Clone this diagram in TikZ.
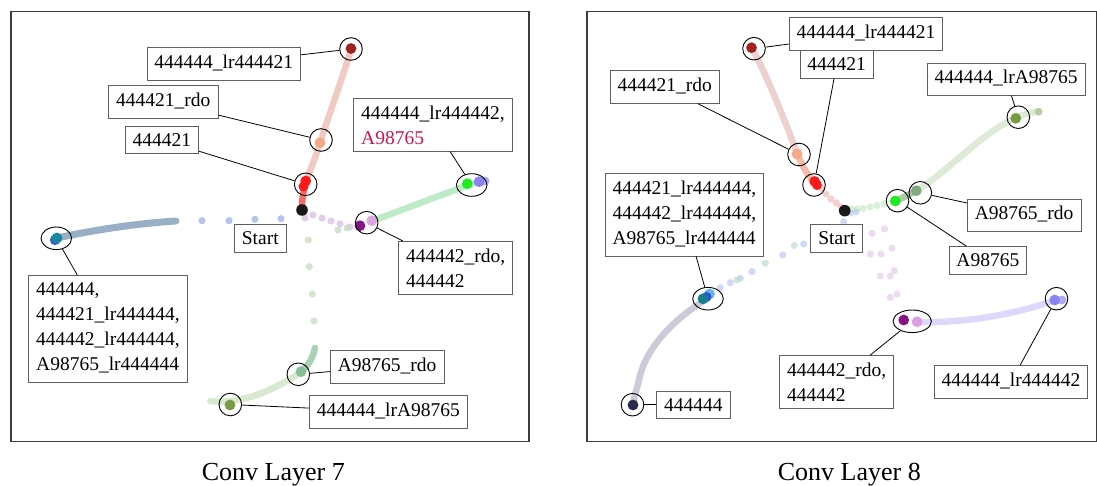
\documentclass[tikz,border=0pt]{standalone}
\usepackage{fontspec}
\setmainfont{Liberation Serif}
\usetikzlibrary{shapes.geometric}

% palette
\definecolor{frameg}{RGB}{60,60,60}
\definecolor{boxg}{RGB}{95,95,95}
\definecolor{cdred}{RGB}{160,35,35}
\definecolor{csalmon}{RGB}{245,168,135}
\definecolor{cred}{RGB}{255,25,25}
\definecolor{cblack}{RGB}{25,25,25}
\definecolor{cteal}{RGB}{25,135,160}
\definecolor{cbluedot}{RGB}{50,100,200}
\definecolor{cpurple}{RGB}{135,20,135}
\definecolor{clilac}{RGB}{220,160,222}
\definecolor{cgreen}{RGB}{30,235,35}
\definecolor{clav}{RGB}{140,130,240}
\definecolor{clavpale}{RGB}{175,172,242}
\definecolor{csage}{RGB}{135,190,150}
\definecolor{csage2}{RGB}{130,170,130}
\definecolor{colive}{RGB}{120,155,65}
\definecolor{cnavy}{RGB}{42,42,82}
\definecolor{csky}{RGB}{100,180,235}
\definecolor{croyal}{RGB}{40,80,220}
\definecolor{cteal2}{RGB}{20,130,140}
\definecolor{crimsontext}{RGB}{200,20,85}
% trail tints
\definecolor{tsalmon}{RGB}{228,150,135}
\definecolor{tred}{RGB}{240,60,50}
\definecolor{tsteel}{RGB}{70,110,150}
\definecolor{tgreen}{RGB}{110,210,130}
\definecolor{tsage}{RGB}{110,180,130}
\definecolor{tpalegreen}{RGB}{170,205,150}
\definecolor{trose}{RGB}{215,150,150}
\definecolor{tcoral}{RGB}{240,140,110}
\definecolor{tpink}{RGB}{230,150,150}
\definecolor{tmint}{RGB}{160,220,160}
\definecolor{tmoss}{RGB}{110,170,110}
\definecolor{tfern}{RGB}{175,205,155}
\definecolor{tfernend}{RGB}{150,185,130}
\definecolor{tslate}{RGB}{150,150,180}
\definecolor{tperi}{RGB}{185,180,245}
\definecolor{pblue}{RGB}{150,172,222}
\definecolor{pblue2}{RGB}{180,190,240}
\definecolor{pviolet}{RGB}{205,175,225}
\definecolor{pviolet2}{RGB}{225,195,230}
\definecolor{pgreen}{RGB}{200,222,195}
\definecolor{pgreen2}{RGB}{190,220,205}

% underscore with the deeper box of the label font
\newcommand{\us}{\_\rule[-4.7pt]{0pt}{4.7pt}}

\tikzset{
  lbl/.style={draw=boxg, line width=0.8pt, fill=white,
    font=\fontsize{19.5}{25}\selectfont, inner xsep=7.5pt, inner ysep=7.15pt, align=left},
  ring/.style={circle, draw=black, line width=0.9pt, minimum size=22.6pt, inner sep=0pt},
  oring/.style={ellipse, draw=black, line width=0.9pt, minimum width=30.6pt,
    minimum height=22.6pt, inner sep=0pt},
  wring/.style={ellipse, draw=black, line width=0.9pt, minimum width=38.4pt,
    minimum height=22.6pt, inner sep=0pt},
  link/.style={draw=black, line width=0.8pt},
  trail/.style={line width=6.5pt, line cap=round, line join=round},
  panel/.style={draw=frameg, line width=1.2pt},
  caption/.style={font=\fontsize{26}{30}\selectfont, anchor=base},
}

\begin{document}
\begin{tikzpicture}[x=1pt,y=-1pt]
\useasboundingbox (0,0) rectangle (1097,486);

% ---------------- Conv Layer 7 ----------------
\draw[panel] (11,11.7) rectangle (529,441.7);

% trajectories
\draw[trail, draw=tsalmon, draw opacity=0.5]
  (351,50) .. controls (340,85) and (328,118) .. (321,140) .. controls (315,160) and (309,172) .. (306,182);
\draw[trail, draw=tred, draw opacity=0.75]
  (306,182) .. controls (303,192) and (302,200) .. (302,208);
\draw[trail, line width=7pt, draw=tsteel, draw opacity=0.55]
  (57,238) .. controls (90,231) and (130,224) .. (176,221);
\draw[trail, draw=tgreen, draw opacity=0.45]
  (372,221) .. controls (400,211) and (440,195) .. (472,184);
\draw[trail, draw=tsage, draw opacity=0.6]
  (315,348) .. controls (313,358) and (308,366) .. (301,372);
\draw[trail, draw=tpalegreen, draw opacity=0.45]
  (301,372) .. controls (275,390) and (240,405) .. (210,401);

% sparse points
\foreach \p in {(202,220.7),(229,220.7),(255,219.3),(281,218.7)}
  \fill[fill=pblue, fill opacity=0.7] \p circle (3.6pt);
\foreach \p in {(305,218),(313,215),(322,218),(331,221),(340,224),(350,227)}
  \fill[fill=pviolet, fill opacity=0.6] \p circle (3.6pt);
\foreach \p in {(338,230),(347,228),(308.3,240),(309.3,266.7),(312.3,294),(314,321)}
  \fill[fill=pgreen, fill opacity=0.8] \p circle (3.6pt);

% states
\fill[cdred] (351,48.5) circle (5.4pt);
\fill[csalmon] (320,142.7) circle (5.4pt);
\fill[cred] (303.5,186.5) circle (5pt);
\fill[cred] (305.7,181) circle (5.4pt);
\fill[cblack] (302,210) circle (5.8pt);
\fill[cbluedot] (55,240) circle (5.2pt);
\fill[cteal] (57,238) circle (5.4pt);
\fill[cpurple] (360,225.7) circle (5.4pt);
\fill[clilac, fill opacity=0.9] (371.7,220.7) circle (5.4pt);
\fill[clavpale] (485,181) circle (4.5pt);
\fill[clav] (479,181.7) circle (5.4pt);
\fill[cgreen] (467.3,183.7) circle (5.4pt);
\fill[csage] (301,371.7) circle (5.4pt);
\fill[colive] (230,405) circle (5.4pt);

% markers
\node[ring]  (r1) at (351,49) {};
\node[ring]  (r2) at (321,140) {};
\node[ring]  (r3) at (305.7,184.3) {};
\node[oring] (r4) at (56.3,238.3) {};
\node[ring]  (r5) at (366.7,222.7) {};
\node[oring] (r6) at (471.7,185) {};
\node[ring]  (r7) at (298.3,374.3) {};
\node[ring]  (r8) at (230.3,404.5) {};

% labels
\node[lbl, anchor=east] (b1) at (301,63.8) {444444\us lr444421};
\node[lbl, anchor=east] (b2) at (218.3,101.8) {444421\us rdo};
\node[lbl, anchor=east] (b3) at (199,139.7) {444421};
\node[lbl, anchor=west] (b4) at (353.3,125) {444444\us lr444442,\\\textcolor{crimsontext}{A98765}};
\node[lbl, anchor=west] (b5) at (398.3,267.8) {444442\us rdo,\\444442};
\node[lbl, anchor=west] (b6) at (28.3,328.7) {444444,\\444421\us lr444444,\\444442\us lr444444,\\A98765\us lr444444};
\node[lbl] (b7) at (260.3,238.2) {Start};
\node[lbl, anchor=west] (b8) at (330,366.7) {A98765\us rdo};
\node[lbl, anchor=west] (b9) at (309,411.7) {444444\us lrA98765};

% leader lines
\draw[link] (b1) -- (r1);
\draw[link] (b2) -- (r2);
\draw[link] (b3) -- (r3);
\draw[link] (b4) -- (r6);
\draw[link] (b5) -- (r5);
\draw[link] (b6) -- (r4);
\draw[link] (b8) -- (r7);
\draw[link] (b9) -- (r8);

\node[caption] (cap7) at (273.3,480.7) {Conv Layer 7};

% ---------------- Conv Layer 8 ----------------
\draw[panel] (587,11.7) rectangle (1096.4,441.7);

% trajectories
\draw[trail, draw=trose, draw opacity=0.45]
  (752,48) .. controls (765,72) and (785,120) .. (797,153);
\draw[trail, draw=tcoral, draw opacity=0.6]
  (797,153) .. controls (802,166) and (808,176) .. (815,183);
\foreach \p in {(821,188),(826,194),(831,199),(836.5,203),(841,207)}
  \fill[fill=tpink, fill opacity=0.45] \p circle (3.6pt);
\foreach \p in {(851,209),(857,209),(863,208.5),(870,207),(877,205.5),(884,203.5)}
  \fill[fill=tmint, fill opacity=0.4] \p circle (3.6pt);
\draw[trail, draw=tmoss, draw opacity=0.6]
  (896,201) -- (916,191);
\draw[trail, draw=tfern, draw opacity=0.42]
  (916,191) .. controls (950,170) and (985,130) .. (1016,118) .. controls (1025,114) and (1032,112) .. (1038.7,111.7);
\fill[fill=tfernend, fill opacity=0.6] (1038.7,111.7) circle (4pt);
\draw[trail, draw=tslate, draw opacity=0.5]
  (705,300) .. controls (670,322) and (645,350) .. (639,380) .. controls (636,392) and (634,398) .. (633,403);
\draw[trail, draw=tperi, draw opacity=0.5]
  (920,322) .. controls (960,323) and (1010,316) .. (1056,300);
\fill[clavpale] (1062,300) circle (4.5pt);

% sparse points
\foreach \p in {(720.3,287.7),(730.3,282.7),(740.3,278.3),(752,271.7),(782.7,255),(803.7,244),(843.7,221.7),(850,213),(856,212)}
  \fill[fill=pblue2, fill opacity=0.6] \p circle (3.6pt);
\foreach \p in {(737,280),(765.3,263.3),(794.3,245.5)}
  \fill[fill=pgreen2, fill opacity=0.7] \p circle (3.6pt);
\foreach \p in {(872,233.3),(884.7,229),(870.3,254),(881,254),(892,248.3),(880.3,276),(890.3,276),(894.3,270.7),(890.3,297.3),(897,294)}
  \fill[fill=pviolet2, fill opacity=0.6] \p circle (3.6pt);

% states
\fill[cdred] (751.5,47.7) circle (5.4pt);
\fill[csalmon] (797,154) circle (5.4pt);
\fill[cred] (817,185) circle (5pt);
\fill[cred] (814.7,181.5) circle (5.4pt);
\fill[cblack] (844.7,210.7) circle (5.8pt);
\fill[csage2] (916.3,190.7) circle (5.4pt);
\fill[cgreen] (895.3,201) circle (5.4pt);
\fill[colive] (1015.7,118.3) circle (5.4pt);
\fill[csky] (709.5,294) circle (5.4pt);
\fill[croyal] (706.5,297) circle (5pt);
\fill[cteal2] (703,298.8) circle (5.4pt);
\fill[cnavy] (633,405) circle (5.4pt);
\fill[clilac] (917,321.7) circle (5.4pt);
\fill[cpurple] (903.7,320) circle (5.4pt);
\fill[clav] (1054.7,300) circle (5.4pt);

% markers
\node[ring]  (s1) at (754,48.7) {};
\node[ring]  (s2) at (799,154.5) {};
\node[ring]  (s3) at (814,185) {};
\node[ring]  (s4) at (897.5,200.7) {};
\node[ring]  (s5) at (920.3,192.8) {};
\node[ring]  (s6) at (1018.3,117.2) {};
\node[oring] (s7) at (708,298.7) {};
\node[ring]  (s8) at (632.5,404.7) {};
\node[wring] (s9) at (912.2,321.3) {};
\node[ring]  (s10) at (1056.5,298.7) {};

% labels
\node[lbl, anchor=west] (c1) at (788.7,33.7) {444444\us lr444421};
\node[lbl] (c2) at (836.7,64.5) {444421};
\node[lbl, anchor=east] (c3) at (719.7,87) {444421\us rdo};
\node[lbl] (c4) at (1006.2,79.2) {444444\us lrA98765};
\node[lbl, anchor=west] (c5) at (967,215.5) {A98765\us rdo};
\node[lbl] (c6) at (987.9,260.3) {A98765};
\node[lbl, anchor=west] (c7) at (604.7,214.7) {444421\us lr444444,\\444442\us lr444444,\\A98765\us lr444444};
\node[lbl] (c8) at (836.8,238.2) {Start};
\node[lbl, anchor=west] (c9) at (656.3,404.7) {444444};
\node[lbl] (c10) at (836.7,382) {444442\us rdo,\\444442};
\node[lbl] (c11) at (1011,381.9) {444444\us lr444442};

% leader lines
\draw[link] (c1) -- (s1);
\draw[link] (c2) -- (s3);
\draw[link] (c3) -- (s2);
\draw[link] (c4) -- (s6);
\draw[link] (c5) -- (s5);
\draw[link] (c6) -- (s4);
\draw[link] (c7) -- (s7);
\draw[link] (c9) -- (s8);
\draw[link] (c10) -- (s9);
\draw[link] (c11) -- (s10);

\node[caption] (cap8) at (849.3,480.7) {Conv Layer 8};
\end{tikzpicture}
\end{document}
